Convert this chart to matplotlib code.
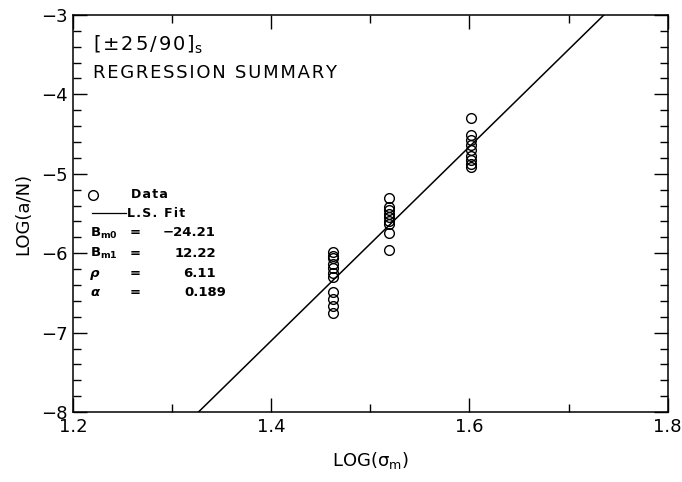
import numpy as np
import matplotlib
matplotlib.use('Agg')
import matplotlib.pyplot as plt
from matplotlib.ticker import MultipleLocator

plt.rcParams['font.family'] = ['DejaVu Sans']
plt.rcParams['mathtext.default'] = 'regular'

# Data: three stress levels, LOG(a/N) values at each
x_levels = [1.462, 1.519, 1.602]
y_low = [-5.99, -6.03, -6.06, -6.13, -6.18, -6.25, -6.30, -6.49, -6.57, -6.66, -6.75]
y_mid = [-5.31, -5.42, -5.46, -5.50, -5.54, -5.59, -5.63, -5.75, -5.96]
y_high = [-4.30, -4.51, -4.58, -4.64, -4.70, -4.77, -4.83, -4.88, -4.92]

# Least squares fit coefficients
b_m0 = -24.21
b_m1 = 12.22
rho = 6.11
alpha = 0.189


def spaced(s):
    # loose letter spacing like the original plotter lettering
    return '\u200a'.join(s)


fig = plt.figure(figsize=(6.82, 4.82), dpi=100)
ax = fig.add_axes([0.107, 0.145, 0.872, 0.824])

for xv, ys in zip(x_levels, [y_low, y_mid, y_high]):
    ax.plot([xv] * len(ys), ys, 'o', mfc='none', mec='black', ms=7, mew=1.0)

x_fit = np.array([1.2, 1.8])
ax.plot(x_fit, b_m0 + b_m1 * x_fit, color='black', lw=1.1)

ax.set_xlim(1.2, 1.8)
ax.set_ylim(-8, -3)
ax.xaxis.set_major_locator(MultipleLocator(0.2))
ax.xaxis.set_minor_locator(MultipleLocator(0.1))
ax.yaxis.set_major_locator(MultipleLocator(1))
ax.yaxis.set_minor_locator(MultipleLocator(0.2))
ax.xaxis.set_major_formatter(plt.FuncFormatter(lambda v, p: f'{v:.1f}'))
ax.yaxis.set_major_formatter(plt.FuncFormatter(lambda v, p: f'\u2212{abs(v):.0f}'))
ax.tick_params(which='both', direction='in', top=True, right=True, width=1.0)
ax.tick_params(which='major', length=10, labelsize=13, pad=4)
ax.tick_params(which='minor', length=6)
for s in ax.spines.values():
    s.set_linewidth(1.1)

ax.set_xlabel(r'LOG($\sigma_m$)', fontsize=13, labelpad=10)
ax.set_ylabel('LOG(a/N)', fontsize=13, labelpad=6)

# annotation block
ax.text(0.034, 0.924, spaced('[±25/90]') + r'$_{s}$', transform=ax.transAxes,
        fontsize=14, va='center', ha='left')
ax.text(0.034, 0.854, spaced('REGRESSION SUMMARY'), transform=ax.transAxes,
        fontsize=13, va='center', ha='left')

ax.plot([0.034], [0.547], 'o', mfc='none', mec='black', ms=7, mew=1.0,
        transform=ax.transAxes, clip_on=False)
ax.text(0.097, 0.547, spaced('Data'), transform=ax.transAxes, fontsize=9,
        fontweight='bold', va='center')
ax.plot([0.032, 0.090], [0.501, 0.501], color='black', lw=0.9,
        transform=ax.transAxes)
ax.text(0.091, 0.501, spaced('L.S. Fit'), transform=ax.transAxes, fontsize=9,
        fontweight='bold', va='center')

rows = [(r'B$_{m0}$', 'normal', f'{b_m0:.2f}', 0.451, 0.240),
        (r'B$_{m1}$', 'normal', f'{b_m1:.2f}', 0.400, 0.240),
        ('ρ', 'italic', f'{rho:.2f}', 0.350, 0.240),
        ('α', 'italic', f'{alpha:.3f}', 0.302, 0.257)]
for name, style, val, yy, xr in rows:
    ax.text(0.029, yy, name, transform=ax.transAxes, fontsize=9.5,
            fontweight='bold', fontstyle=style, va='center')
    ax.text(0.105, yy, '=', transform=ax.transAxes, fontsize=9.5,
            fontweight='bold', va='center', ha='center')
    ax.text(xr, yy, val.replace('-', '\u2212'), transform=ax.transAxes,
            fontsize=9.5, fontweight='bold', va='center', ha='right')

fig.savefig('out.png', dpi=100)
